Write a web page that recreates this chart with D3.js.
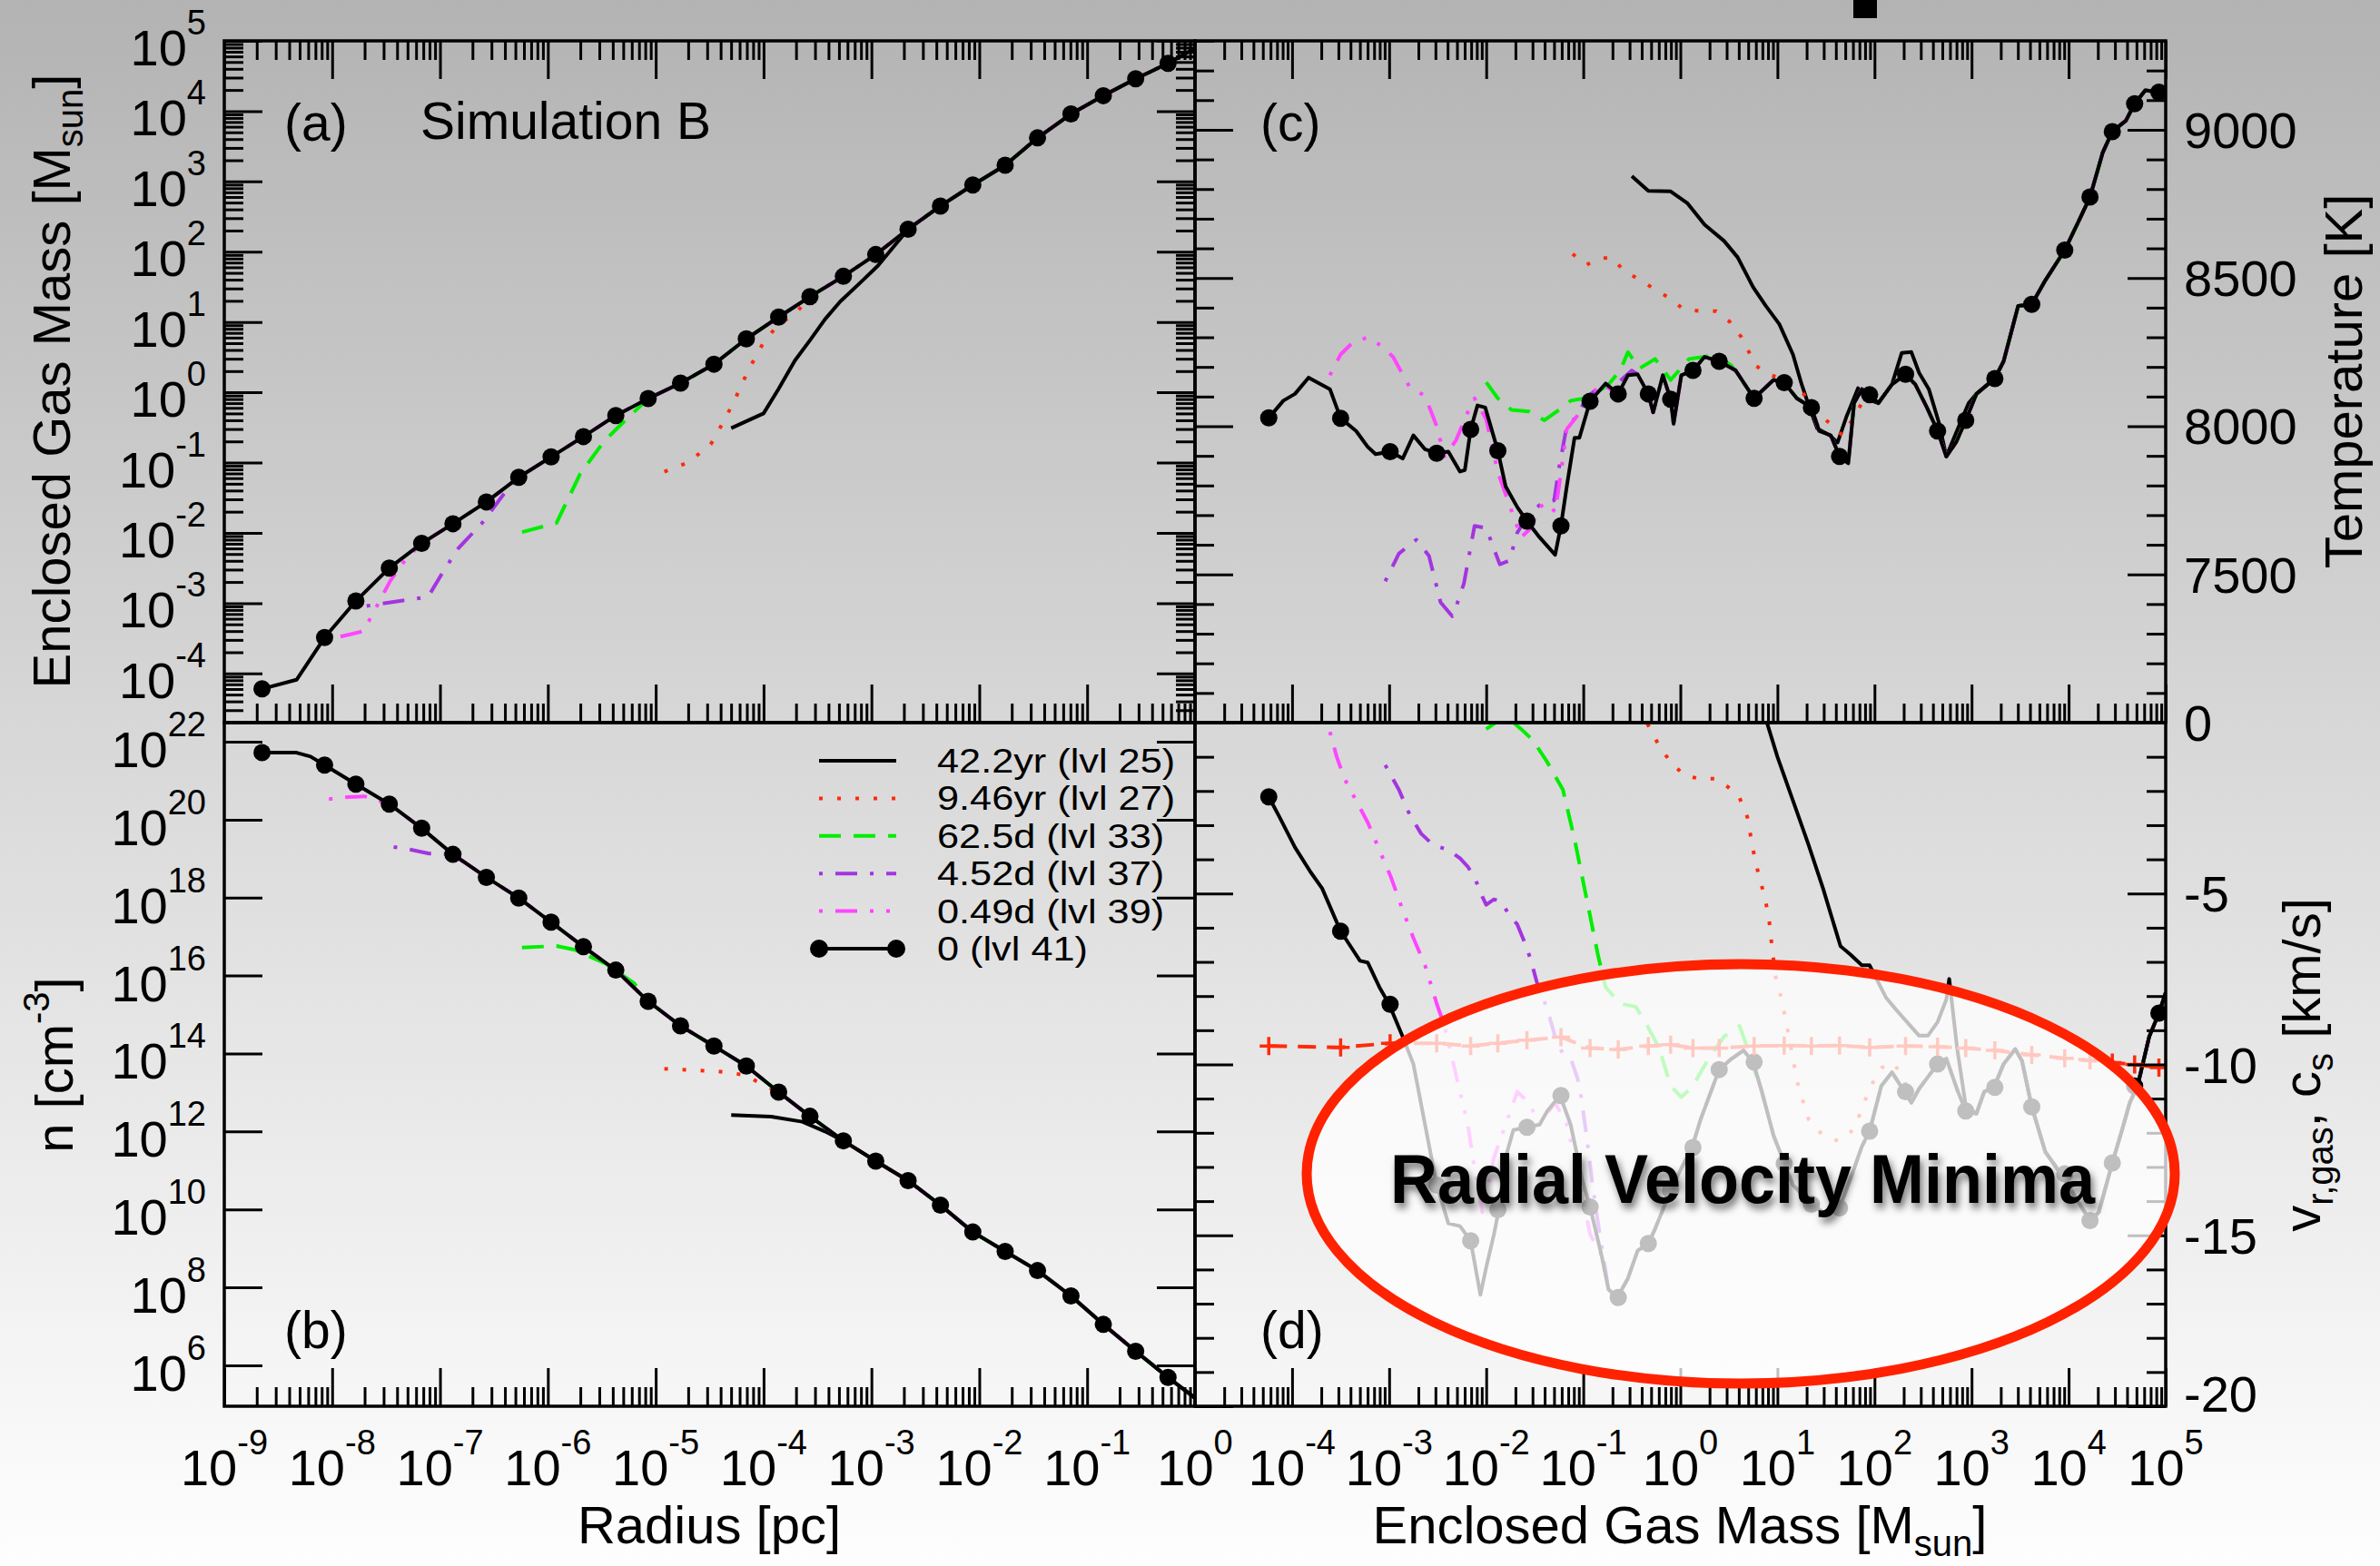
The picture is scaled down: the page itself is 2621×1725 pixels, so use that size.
<!DOCTYPE html>
<html><head><meta charset="utf-8">
<script src="https://cdn.jsdelivr.net/npm/d3@7"></script>
<style>body{margin:0;background:#fff}svg{display:block}</style>
</head><body>
<svg id="chart" width="2621" height="1725"></svg>
<script>
// ===================== DATA (log10 values for log axes) =====================
const seriesNames = ["42.2yr (lvl 25)","9.46yr (lvl 27)","62.5d (lvl 33)","4.52d (lvl 37)","0.49d (lvl 39)","0 (lvl 41)"];

// ---- panel (a): enclosed gas mass vs radius  (log10 pc, log10 Msun)
const rMainA = [-8.65,-8.33,-8.07,-7.78,-7.47,-7.17,-6.88,-6.57,-6.27,-5.97,-5.67,-5.37,-5.07,-4.77,-4.46,-4.16,-3.86,-3.57,-3.26,-2.96,-2.66,-2.36,-2.06,-1.76,-1.46,-1.15,-0.85,-0.55,-0.25,0.02];
const mMainA = [-4.22,-4.09,-3.49,-2.97,-2.50,-2.15,-1.87,-1.56,-1.21,-0.92,-0.63,-0.33,-0.09,0.13,0.40,0.76,1.07,1.36,1.65,1.96,2.32,2.65,2.95,3.23,3.62,3.96,4.22,4.46,4.68,4.91];
const rDots  = [-8.65,-8.07,-7.78,-7.47,-7.17,-6.88,-6.57,-6.27,-5.97,-5.67,-5.37,-5.07,-4.77,-4.46,-4.16,-3.86,-3.57,-3.26,-2.96,-2.66,-2.36,-2.06,-1.76,-1.46,-1.15,-0.85,-0.55,-0.25];
const mDotsA = [-4.22,-3.49,-2.97,-2.50,-2.15,-1.87,-1.56,-1.21,-0.92,-0.63,-0.33,-0.09,0.13,0.40,0.76,1.07,1.36,1.65,1.96,2.32,2.65,2.95,3.23,3.62,3.96,4.22,4.46,4.68];
const a422R = [-4.30,-4.00,-3.86,-3.71,-3.57,-3.43,-3.29,-3.11,-2.94], a422M = [-0.51,-0.30,0.05,0.45,0.74,1.04,1.29,1.55,1.80], a422J = 20;
const a946R = [-4.92,-4.70,-4.49,-4.39,-4.28,-4.14,-4.00,-3.86,-3.71], a946M = [-1.13,-1.00,-0.74,-0.47,-0.15,0.32,0.71,0.97,1.11], a946J = 17;
const a625R = [-6.24,-5.92,-5.70,-5.48,-5.27], a625M = [-1.99,-1.86,-1.16,-0.70,-0.38], a625J = 12;
const a452R = [-7.68,-7.11,-6.97,-6.83,-6.61,-6.40], a452M = [-3.04,-2.91,-2.55,-2.22,-1.86,-1.43], a452J = 8;
const a049R = [-8.07,-7.71,-7.46,-7.32], a049M = [-3.53,-3.40,-2.68,-2.38], a049J = 5;

// ---- panel (b): number density vs radius (log10 pc, log10 cm^-3)
const rMainB = [-8.65,-8.33,-8.20,-8.07,-7.78,-7.47,-7.17,-6.88,-6.57,-6.27,-5.97,-5.67,-5.37,-5.07,-4.77,-4.46,-4.16,-3.86,-3.57,-3.26,-2.96,-2.66,-2.36,-2.06,-1.76,-1.46,-1.15,-0.85,-0.55,-0.25,0.02];
const nMainB = [21.72,21.72,21.62,21.40,20.91,20.40,19.78,19.11,18.52,17.99,17.37,16.74,16.14,15.34,14.71,14.19,13.68,13.01,12.39,11.76,11.24,10.74,10.11,9.42,8.92,8.43,7.78,7.05,6.36,5.69,5.12];
const nDots  = [21.72,21.40,20.91,20.40,19.78,19.11,18.52,17.99,17.37,16.74,16.14,15.34,14.71,14.19,13.68,13.01,12.39,11.76,11.24,10.74,10.11,9.42,8.92,8.43,7.78,7.05,6.36,5.69];
const b422R = [-4.30,-3.93,-3.64,-3.43], b422N = [12.42,12.38,12.25,12.00], b422J = 19;
const b946R = [-4.92,-4.42,-4.17,-4.00], b946N = [13.61,13.54,13.45,13.19], b946J = 17;
const b625R = [-6.24,-5.92,-5.75,-5.46,-5.20], b625N = [16.72,16.76,16.66,16.30,15.80], b625J = 13;
const b452R = [-7.43,-7.27,-7.10], b452N = [19.30,19.23,19.13], b452J = 7;
const b049R = [-8.03,-7.85,-7.70,-7.58], b049N = [20.53,20.58,20.60,20.50], b049J = 5;

// ---- panel (c): temperature vs enclosed mass (log10 Msun, K)
const mMainC = [-4.24,-4.09,-3.97,-3.83,-3.61,-3.50,-3.34,-3.22,-3.14,-2.99,-2.86,-2.75,-2.63,-2.51,-2.39,-2.27,-2.22,-2.16,-2.09,-2.01,-1.88,-1.80,-1.68,-1.58,-1.45,-1.29,-1.23,-1.17,-1.09,-1.04,-0.93,-0.77,-0.64,-0.54,-0.44,-0.33,-0.28,-0.18,-0.10,-0.07,0.01,0.13,0.25,0.40,0.57,0.76,0.96,1.07,1.20,1.35,1.43,1.55,1.64,1.73,1.79,1.87,1.95,2.04,2.18,2.32,2.42,2.54,2.65,2.74,2.84,2.94,3.05,3.24,3.33,3.48,3.62,3.76,3.96,4.12,4.22,4.35,4.45,4.59,4.68,4.79,4.93,5.00];
const tMainC = [8028,8086,8109,8164,8125,8027,7984,7930,7906,7914,7891,7969,7922,7909,7914,7847,7852,7989,8070,8063,7917,7797,7727,7680,7625,7566,7664,7797,7961,7961,8084,8144,8109,8172,8175,8109,8047,8172,8091,8008,8172,8188,8234,8219,8188,8094,8156,8147,8094,8063,7984,7969,7898,7875,8078,8125,8106,8078,8141,8175,8141,8063,7984,7898,7945,8020,8109,8161,8219,8406,8411,8492,8594,8703,8773,8922,8994,9031,9088,9133,9127,9125];
const massDots = [-4.24,-3.50,-2.99,-2.51,-2.16,-1.88,-1.58,-1.23,-0.93,-0.64,-0.33,-0.10,0.13,0.40,0.76,1.07,1.35,1.64,1.95,2.32,2.65,2.94,3.24,3.62,3.96,4.22,4.45,4.68,4.93];
const tDots = [8028,8027,7914,7909,7989,7917,7680,7664,8084,8109,8109,8091,8188,8219,8094,8147,8063,7898,8106,8175,7984,8020,8161,8411,8594,8773,8994,9088,9127];
const c422M = [-0.50,-0.33,-0.10,0.07,0.25,0.45,0.59,0.75,0.88,1.02,1.16,1.25,1.33,1.41,1.54,1.62,1.71,1.83,1.91,2.04,2.18,2.28,2.38,2.46,2.56,2.66,2.74,2.83,2.97];
const c422T = [8844,8794,8792,8753,8680,8625,8570,8469,8406,8344,8242,8141,8063,7992,7969,7945,8031,8128,8094,8078,8141,8247,8250,8180,8125,8016,7898,7969,8078], c422J = 66;
const c946M = [-1.11,-0.97,-0.83,-0.70,-0.58,-0.42,-0.26,-0.10,0.03,0.21,0.37,0.51,0.63,0.78,0.94,1.08,1.24,1.39,1.55,1.67,1.79,1.95];
const c946T = [8581,8544,8566,8569,8523,8495,8461,8430,8395,8388,8388,8352,8300,8203,8172,8156,8125,8047,8008,7969,8031,8125], c946J = 57;
const c625M = [-2.00,-1.88,-1.74,-1.56,-1.40,-1.25,-1.13,-0.93,-0.74,-0.62,-0.54,-0.42,-0.26,-0.10,0.09,0.25,0.37,0.53];
const c625T = [8148,8094,8055,8050,8020,8055,8086,8097,8141,8188,8250,8195,8227,8156,8227,8234,8242,8203], c625J = 45;
const c452M = [-3.04,-2.90,-2.72,-2.59,-2.47,-2.35,-2.31,-2.23,-2.12,-2.00,-1.86,-1.76,-1.68,-1.56,-1.45,-1.30,-1.25,-1.17,-1.07,-0.97,-0.81,-0.66,-0.50];
const c452T = [7477,7570,7617,7563,7406,7359,7391,7469,7664,7656,7534,7547,7641,7703,7734,7750,7859,8000,8031,8094,8141,8141,8188], c452J = 34;
const c049M = [-3.61,-3.50,-3.38,-3.22,-3.09,-2.96,-2.79,-2.63,-2.51,-2.43,-2.31,-2.19,-2.12,-2.00,-1.88,-1.76,-1.64,-1.54,-1.45,-1.38,-1.29,-1.25,-1.17,-1.07,-0.97,-0.81];
const c049T = [8172,8242,8281,8300,8273,8234,8133,8102,8000,7898,7953,8047,8094,8023,7844,7734,7625,7656,7727,7742,7711,7797,7990,8031,8094,8141], c049J = 32;

// ---- panel (d): radial velocity & sound speed vs enclosed mass (log10 Msun, km/s)
const mMainD = [-4.24,-4.13,-3.97,-3.81,-3.69,-3.50,-3.38,-3.30,-3.22,-3.10,-3.00,-2.86,-2.75,-2.63,-2.51,-2.39,-2.27,-2.16,-2.06,-2.00,-1.92,-1.87,-1.80,-1.72,-1.58,-1.45,-1.37,-1.24,-1.13,-1.01,-0.93,-0.81,-0.74,-0.65,-0.54,-0.44,-0.33,-0.26,-0.10,0.01,0.12,0.21,0.40,0.53,0.65,0.75,0.84,0.96,1.16,1.36,1.47,1.64,1.75,1.87,1.95,2.07,2.18,2.31,2.38,2.46,2.65,2.74,2.86,2.94,3.05,3.13,3.23,3.33,3.45,3.52,3.62,3.76,3.92,4.08,4.22,4.31,4.45,4.55,4.63,4.71,4.83,4.93,5.00];
const vMainD = [-2.17,-2.76,-3.65,-4.37,-4.85,-6.10,-6.62,-6.97,-7.02,-7.74,-8.24,-9.19,-9.99,-11.76,-13.53,-14.65,-14.73,-15.16,-16.74,-15.94,-14.97,-14.25,-12.72,-11.92,-11.84,-11.76,-11.36,-10.91,-11.76,-13.37,-14.17,-15.61,-16.58,-16.82,-16.26,-15.45,-15.24,-14.81,-13.69,-13.04,-12.43,-11.60,-10.15,-9.83,-9.59,-9.93,-10.80,-12.08,-13.53,-14.09,-14.33,-14.20,-13.37,-12.40,-11.95,-10.63,-10.23,-10.80,-11.12,-10.71,-9.99,-9.83,-10.80,-11.36,-11.44,-10.80,-10.67,-9.99,-9.55,-9.90,-11.24,-12.56,-13.20,-13.93,-14.57,-14.33,-12.88,-11.92,-11.12,-10.63,-9.19,-8.50,-7.90];
const vDots = [-2.17,-6.10,-8.24,-13.53,-15.16,-14.25,-11.84,-10.91,-14.17,-16.82,-15.24,-13.69,-12.43,-10.15,-9.93,-12.90,-14.09,-14.20,-11.95,-10.80,-9.99,-11.36,-10.67,-11.24,-13.20,-14.57,-12.88,-10.63,-8.50];
const csVals = [-9.46,-9.50,-9.38,-9.38,-9.46,-9.38,-9.29,-9.20,-9.52,-9.56,-9.46,-9.42,-9.52,-9.52,-9.46,-9.45,-9.46,-9.45,-9.50,-9.46,-9.48,-9.52,-9.59,-9.72,-9.82,-9.88,-9.95,-10.00,-10.09];
const d422M = [0.86,1.00,1.16,1.32,1.47,1.59,1.65,1.75,1.87,1.95,2.12,2.22,2.46,2.55,2.65,2.74,2.77,2.85,2.94];
const d422V = [0.30,-1.00,-2.28,-3.57,-4.85,-5.98,-6.54,-6.78,-7.10,-7.10,-8.05,-8.39,-9.16,-9.16,-8.76,-8.10,-7.50,-9.50,-11.20], d422J = 64;
const d946M = [-0.45,-0.34,-0.22,-0.10,0.05,0.21,0.37,0.49,0.61,0.69,0.75,0.80,0.86,0.91,0.94,0.98,1.04,1.12,1.20,1.32,1.47,1.63,1.79,1.95,2.07,2.20,2.31];
const d946V = [0.40,-0.03,-0.67,-1.16,-1.56,-1.64,-1.64,-1.88,-2.20,-2.76,-3.73,-4.37,-5.01,-5.65,-6.46,-7.42,-8.06,-9.19,-10.47,-11.60,-12.08,-12.24,-11.90,-10.70,-10.10,-9.95,-10.50], d946J = 58;
const d625M = [-2.00,-1.80,-1.64,-1.52,-1.37,-1.21,-1.09,-1.01,-0.93,-0.85,-0.77,-0.62,-0.46,-0.34,-0.22,-0.10,0.01,0.13,0.29,0.45,0.61,0.69,0.76];
const d625V = [-0.19,0.20,-0.19,-0.51,-1.16,-1.96,-3.41,-4.53,-5.65,-6.78,-7.74,-8.22,-8.31,-8.87,-9.51,-10.63,-10.96,-10.63,-9.83,-9.19,-8.87,-9.51,-10.15], d625J = 46;
const d452M = [-3.04,-2.90,-2.79,-2.67,-2.55,-2.39,-2.27,-2.19,-2.12,-2.04,-2.00,-1.92,-1.84,-1.76,-1.68,-1.60,-1.54,-1.48,-1.37,-1.29,-1.21,-1.12,-1.06,-1.03,-0.97,-0.91,-0.85];
const d452V = [-1.24,-1.96,-2.68,-3.25,-3.57,-3.73,-3.97,-4.21,-4.53,-5.09,-5.33,-5.17,-5.25,-5.65,-5.90,-6.46,-6.94,-7.58,-8.39,-9.19,-9.70,-9.90,-10.40,-10.80,-12.00,-13.40,-14.60], d452J = 32;
const d049M = [-3.61,-3.54,-3.46,-3.34,-3.22,-3.10,-2.98,-2.86,-2.75,-2.63,-2.51,-2.43,-2.35,-2.27,-2.19,-2.12,-2.04,-1.92,-1.80,-1.68,-1.56,-1.45,-1.29,-1.17,-1.05,-0.93,-0.81];
const d049V = [-0.27,-1.00,-1.64,-2.28,-2.92,-3.73,-4.53,-5.49,-6.30,-7.10,-8.22,-8.87,-9.83,-10.80,-11.76,-13.04,-14.33,-12.72,-11.76,-10.80,-11.12,-11.76,-11.12,-11.76,-13.20,-14.97,-15.61], d049J = 32;

// tick label values
const radiusTickExps = [-9,-8,-7,-6,-5,-4,-3,-2,-1,0];
const massAxisTickExps = [-4,-3,-2,-1,0,1,2,3,4,5];
const massYTickExps = [-4,-3,-2,-1,0,1,2,3,4,5];
const densTickExps = [6,8,10,12,14,16,18,20,22];
const tempTicks = [7500,8000,8500,9000];
const velTicks = [0,-5,-10,-15,-20];

// ===================== STYLES / LAYOUT =====================
const colors = ["#000000","#ff2a0a","#00ee00","#a335e0","#ff45ff","#000000"];
const dashes = [null,"4,16","24,14","4,14,24,14","4,14,24,14,4,14",null];
const FONT = "'Liberation Sans', Arial, Helvetica, sans-serif";
const W = 2621, H = 1725;
const X0 = 247, XM = 1316, X1 = 2385, Y0 = 45, YM = 796, Y1 = 1549;
const P = v => Math.pow(10, v);

const svg = d3.select("#chart").attr("font-family", FONT);
const defs = svg.append("defs");
const bg = defs.append("linearGradient").attr("id","bg").attr("x1",0).attr("y1",0).attr("x2",0).attr("y2",1);
bg.append("stop").attr("offset","0").attr("stop-color","#b3b3b3");
bg.append("stop").attr("offset","0.5").attr("stop-color","#dadada");
bg.append("stop").attr("offset","1").attr("stop-color","#fefefe");
svg.append("rect").attr("width",W).attr("height",H).attr("fill","url(#bg)");

const sh = defs.append("filter").attr("id","shadow").attr("x","-10%").attr("y","-30%").attr("width","120%").attr("height","160%");
sh.append("feDropShadow").attr("dx",3).attr("dy",6).attr("stdDeviation",4).attr("flood-color","#000").attr("flood-opacity",0.55);

// scales
const xR = d3.scaleLog().domain([1e-9, 1]).range([X0, XM]);
const yMa = d3.scaleLog().domain([P(-4.7), 1e5]).range([YM, Y0]);
const yN = d3.scaleLog().domain([P(4.95), P(22.49)]).range([Y1, YM]);
const xM = d3.scaleLog().domain([1e-5, 1e5]).range([XM, X1]);
const yT = d3.scaleLinear().domain([7000, 9300]).range([YM, Y0]);
const yV = d3.scaleLinear().domain([-20, 0]).range([Y1, YM]);

const panels = {
  a: {x: xR, y: yMa, x0: X0, x1: XM, y0: Y0, y1: YM},
  b: {x: xR, y: yN,  x0: X0, x1: XM, y0: YM, y1: Y1},
  c: {x: xM, y: yT,  x0: XM, x1: X1, y0: Y0, y1: YM},
  d: {x: xM, y: yV,  x0: XM, x1: X1, y0: YM, y1: Y1}
};
Object.entries(panels).forEach(([k,p]) => {
  defs.append("clipPath").attr("id","clip"+k).append("rect")
    .attr("x",p.x0).attr("y",p.y0).attr("width",p.x1-p.x0).attr("height",p.y1-p.y0);
  p.g = svg.append("g").attr("clip-path","url(#clip"+k+")");
});

function pts(xs, ys, mx, my, join, fx, fy) {
  const p = d3.zip(xs, ys);
  if (join != null) p.push(...d3.zip(mx.slice(join), my.slice(join)));
  return p.map(([a,b]) => [fx(a), fy(b)]);
}
function drawLine(p, data, i) {
  const line = d3.line().x(d => p.x(d[0])).y(d => p.y(d[1]));
  p.g.append("path").datum(data).attr("d", line).attr("fill","none")
    .attr("stroke", colors[i]).attr("stroke-width", 4)
    .attr("stroke-dasharray", dashes[i]).attr("stroke-linejoin","round");
}
function drawDots(p, xs, ys, fx, fy) {
  p.g.selectAll(null).data(d3.zip(xs, ys)).join("circle")
    .attr("cx", d => p.x(fx(d[0]))).attr("cy", d => p.y(fy(d[1]))).attr("r", 9.5).attr("fill","#000");
}
const id = v => v;

// panel a
{
  const p = panels.a;
  [[a422R,a422M,a422J],[a946R,a946M,a946J],[a625R,a625M,a625J],[a452R,a452M,a452J],[a049R,a049M,a049J]]
    .forEach(([xs,ys,j],i) => drawLine(p, pts(xs,ys,rMainA,mMainA,j,P,P), i));
  drawLine(p, pts(rMainA, mMainA, null, null, null, P, P), 5);
  drawDots(p, rDots, mDotsA, P, P);
}
// panel b
{
  const p = panels.b;
  [[b422R,b422N,b422J],[b946R,b946N,b946J],[b625R,b625N,b625J],[b452R,b452N,b452J],[b049R,b049N,b049J]]
    .forEach(([xs,ys,j],i) => drawLine(p, pts(xs,ys,rMainB,nMainB,j,P,P), i));
  drawLine(p, pts(rMainB, nMainB, null, null, null, P, P), 5);
  drawDots(p, rDots, nDots, P, P);
}
// panel c
{
  const p = panels.c;
  [[c422M,c422T,c422J],[c946M,c946T,c946J],[c625M,c625T,c625J],[c452M,c452T,c452J],[c049M,c049T,c049J]]
    .forEach(([xs,ys,j],i) => drawLine(p, pts(xs,ys,mMainC,tMainC,j,P,id), i));
  drawLine(p, pts(mMainC, tMainC, null, null, null, P, id), 5);
  drawDots(p, massDots, tDots, P, id);
}
// panel d
{
  const p = panels.d;
  [[d422M,d422V,d422J],[d946M,d946V,d946J],[d625M,d625V,d625J],[d452M,d452V,d452J],[d049M,d049V,d049J]]
    .forEach(([xs,ys,j],i) => drawLine(p, pts(xs,ys,mMainD,vMainD,j,P,id), i));
  drawLine(p, pts(mMainD, vMainD, null, null, null, P, id), 5);
  drawDots(p, massDots, vDots, P, id);
  // sound speed
  const cs = d3.zip(massDots, csVals).map(([a,b]) => [P(a), b]);
  p.g.append("path").datum(cs).attr("d", d3.line().x(d=>p.x(d[0])).y(d=>p.y(d[1])))
    .attr("fill","none").attr("stroke","#ff2a0a").attr("stroke-width",4).attr("stroke-dasharray","20,12");
  p.g.selectAll(null).data(cs).join("path")
    .attr("d", d => { const x = p.x(d[0]), y = p.y(d[1]); return `M${x-10},${y}H${x+10}M${x},${y-10}V${y+10}`; })
    .attr("stroke","#ff2a0a").attr("stroke-width",3.5);
}

// ===================== AXES (ticks) =====================
function logVals(scale, majorOnly, step) {
  const [a, b] = scale.domain().map(Math.log10);
  const maj = [], min = [];
  for (let n = Math.floor(a); n <= Math.ceil(b); n++) {
    for (let k = 1; k <= 9; k++) {
      const v = k * Math.pow(10, n), lv = Math.log10(v);
      if (lv < a - 1e-9 || lv > b + 1e-9) continue;
      if (k === 1) { if (!step || ((n % step) + step) % step === 0) maj.push(v); }
      else if (!majorOnly) min.push(v);
    }
  }
  return {maj, min};
}
function tickSet(axisFn, scale, values, len, tx, ty) {
  const g = svg.append("g").attr("transform", `translate(${tx},${ty})`)
    .call(axisFn(scale).tickValues(values).tickSize(-len).tickSizeOuter(0).tickFormat(""));
  g.select(".domain").remove();
  g.selectAll("line").attr("stroke","#000").attr("stroke-width",3);
}
function frameTicks(p, xv, yv, top) {
  [[xv.maj,42],[xv.min,21]].forEach(([v,l]) => {
    tickSet(d3.axisBottom, p.x, v, l, 0, p.y1);
    if (top) tickSet(d3.axisTop, p.x, v, l, 0, p.y0);
  });
  [[yv.maj,42],[yv.min,21]].forEach(([v,l]) => {
    tickSet(d3.axisLeft, p.y, v, l, p.x0, 0);
    tickSet(d3.axisRight, p.y, v, l, p.x1, 0);
  });
  svg.append("rect").attr("x",p.x0).attr("y",p.y0).attr("width",p.x1-p.x0).attr("height",p.y1-p.y0)
    .attr("fill","none").attr("stroke","#000").attr("stroke-width",3.5);
}
const xvR = logVals(xR), xvM = logVals(xM);
frameTicks(panels.a, xvR, logVals(yMa), true);
frameTicks(panels.b, xvR, logVals(yN, true, 2), false);
frameTicks(panels.c, xvM, {maj: d3.range(7000, 9301, 500), min: d3.range(7000, 9301, 100).filter(v => v % 500)}, true);
frameTicks(panels.d, xvM, {maj: d3.range(-20, 0.1, 5), min: d3.range(-20, 0.1, 1).filter(v => v % 5)}, false);

// ===================== LABELS =====================
const lab = svg.append("g").attr("fill","#000");
function powLabel(x, y, exp, anchor) {
  const t = lab.append("text").attr("x", x).attr("y", y).attr("text-anchor", anchor).attr("font-size", 56);
  t.append("tspan").text("10");
  t.append("tspan").attr("dy", -34).attr("font-size", 38).text(String(exp));
}
radiusTickExps.forEach(e => powLabel(xR(P(e)), 1636, e, "middle"));
massAxisTickExps.forEach(e => powLabel(xM(P(e)), 1636, e, "middle"));
massYTickExps.forEach(e => powLabel(227, yMa(P(e)) + 27, e, "end"));
densTickExps.forEach(e => powLabel(227, yN(P(e)) + 28, e, "end"));
tempTicks.forEach(v => lab.append("text").attr("x", 2405).attr("y", yT(v) + 20).attr("font-size", 56).text(v));
velTicks.forEach(v => lab.append("text").attr("x", 2405).attr("y", yV(v) + (v === -20 ? 6 : 20)).attr("font-size", 56).text(v));

function richText(tx, ty, rot, parts, size) {
  const t = lab.append("text").attr("transform", `translate(${tx},${ty}) rotate(${rot})`)
    .attr("text-anchor","middle").attr("font-size", size);
  parts.forEach(([s, kind]) => {
    const sp = t.append("tspan").text(s);
    if (kind === "sub") sp.attr("font-size", 40).attr("dy", 14);
    else if (kind === "sup") sp.attr("font-size", 40).attr("dy", -26);
    else if (kind === "unsub") sp.attr("dy", -14);
    else if (kind === "unsup") sp.attr("dy", 26);
  });
}
richText(77, 420, -90, [["Enclosed Gas Mass [M"],["sun","sub"],["]","unsub"]], 58);
richText(80, 1173, -90, [["n [cm"],["-3","sup"],["]","unsup"]], 58);
richText(781, 1700, 0, [["Radius [pc]"]], 58);
richText(1850, 1700, 0, [["Enclosed Gas Mass [M"],["sun","sub"],["]","unsub"]], 58);
richText(2601, 420, -90, [["Temperature [K]"]], 58);
richText(2555, 1173, -90, [["v"],["r,gas","sub"],[", c","unsub"],["s","sub"],[" [km/s]","unsub"]], 58);

[["(a)",313,155],["Simulation B",463,153],["(b)",313,1485],["(c)",1388,155],["(d)",1388,1485]]
  .forEach(([s,x,y]) => lab.append("text").attr("x",x).attr("y",y).attr("font-size",57).text(s));

// legend
const leg = svg.append("g");
seriesNames.forEach((name, i) => {
  const y = 838 + i * 41.4;
  leg.append("line").attr("x1",902).attr("x2",987).attr("y1",y).attr("y2",y)
    .attr("stroke",colors[i]).attr("stroke-width",4).attr("stroke-dasharray",dashes[i]);
  if (i === 5) [902,987].forEach(x => leg.append("circle").attr("cx",x).attr("cy",y).attr("r",10).attr("fill","#000"));
  leg.append("text").attr("transform",`translate(1032,${y+13}) scale(1.17,1)`).attr("font-size",37).text(name);
});

// ===================== ANNOTATION =====================
svg.append("ellipse").attr("cx",1917).attr("cy",1293).attr("rx",478).attr("ry",231)
  .attr("fill","#ffffff").attr("fill-opacity",0.75).attr("stroke","#ff2200").attr("stroke-width",11);
svg.append("text").attr("x",1531).attr("y",1325).attr("font-size",76).attr("font-weight","bold")
  .attr("textLength",776).attr("lengthAdjust","spacingAndGlyphs").attr("filter","url(#shadow)")
  .attr("fill","#000").text("Radial Velocity Minima");
svg.append("rect").attr("x",2041).attr("y",0).attr("width",26).attr("height",20).attr("fill","#000");
</script>
</body></html>
